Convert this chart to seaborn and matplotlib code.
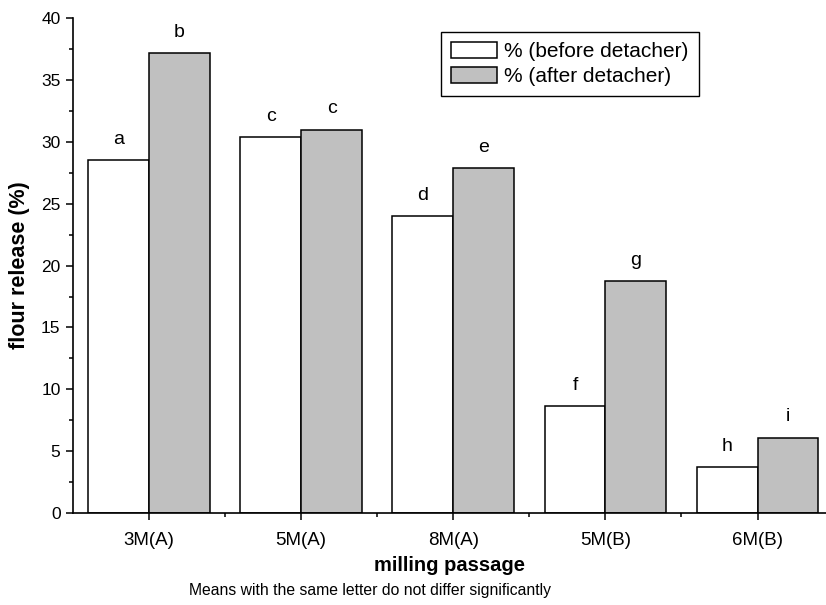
import matplotlib
matplotlib.use("Agg")
import matplotlib.pyplot as plt
import seaborn as sns
import pandas as pd
from matplotlib.ticker import MultipleLocator, FixedLocator

passages = ["3M(A)", "5M(A)", "8M(A)", "5M(B)", "6M(B)"]
before = [28.5, 30.4, 24.0, 8.65, 3.75]
after = [37.2, 31.0, 27.85, 18.75, 6.1]
letters_before = ["a", "c", "d", "f", "h"]
letters_after = ["b", "c", "e", "g", "i"]
series = ["% (before detacher)", "% (after detacher)"]

df = pd.DataFrame({
    "passage": passages * 2,
    "value": before + after,
    "series": [series[0]] * 5 + [series[1]] * 5,
})

sns.set_style("ticks")
plt.rcParams["font.family"] = ["Liberation Sans", "DejaVu Sans"]
plt.rcParams.update({"text.color": "black", "axes.labelcolor": "black",
                     "xtick.color": "black", "ytick.color": "black",
                     "xtick.labelcolor": "black", "ytick.labelcolor": "black"})

fig = plt.figure(figsize=(8.26, 6.05), dpi=100)
ax = fig.add_axes([0.0884, 0.152, 0.9116, 0.818])

sns.barplot(data=df, x="passage", y="value", hue="series", order=passages,
            hue_order=series, palette=["white", "#c0c0c0"], width=0.8,
            edgecolor="black", linewidth=1.1, saturation=1, ax=ax)

# letters over each bar, taken from the drawn patches
labels = letters_before + letters_after
bars = [p for p in ax.patches if p.get_height() > 0][:10]
for p, lab in zip(bars, labels):
    ax.text(p.get_x() + p.get_width() / 2, p.get_height() + 1.3, lab,
            ha="center", va="baseline", fontsize=14, color="black")

ax.set_ylim(0, 40)
ax.set_xlim(-0.5, 4.45)
ax.yaxis.set_major_locator(MultipleLocator(5))
ax.yaxis.set_minor_locator(MultipleLocator(2.5))
ax.xaxis.set_minor_locator(FixedLocator([0.5, 1.5, 2.5, 3.5]))
ax.tick_params(axis="both", which="major", length=5, width=1.1, color="black")
ax.tick_params(axis="both", which="minor", length=3, width=1.1, color="black")
ax.tick_params(axis="x", which="major", labelsize=13.5, pad=9)
ax.tick_params(axis="y", which="major", labelsize=12.5, pad=4)
sns.despine(ax=ax)
for s in ["left", "bottom"]:
    ax.spines[s].set_color("black")
    ax.spines[s].set_linewidth(1.2)

ax.set_xlabel("milling passage", fontsize=14.5, fontweight="bold", labelpad=5)
ax.set_ylabel("flour release (%)", fontsize=15.5, fontweight="bold", labelpad=8)

leg = ax.legend(loc="upper right", bbox_to_anchor=(0.831, 0.972), fontsize=15,
                frameon=True, fancybox=False, edgecolor="black", framealpha=1,
                handlelength=2.2, handleheight=0.8, handletextpad=0.35,
                borderpad=0.48, labelspacing=0.28, borderaxespad=0)
leg.get_frame().set_linewidth(1.0)

fig.text(0.448, 0.012, "Means with the same letter do not differ significantly",
         ha="center", va="bottom", fontsize=11.3)

fig.savefig("out.png", dpi=100)
